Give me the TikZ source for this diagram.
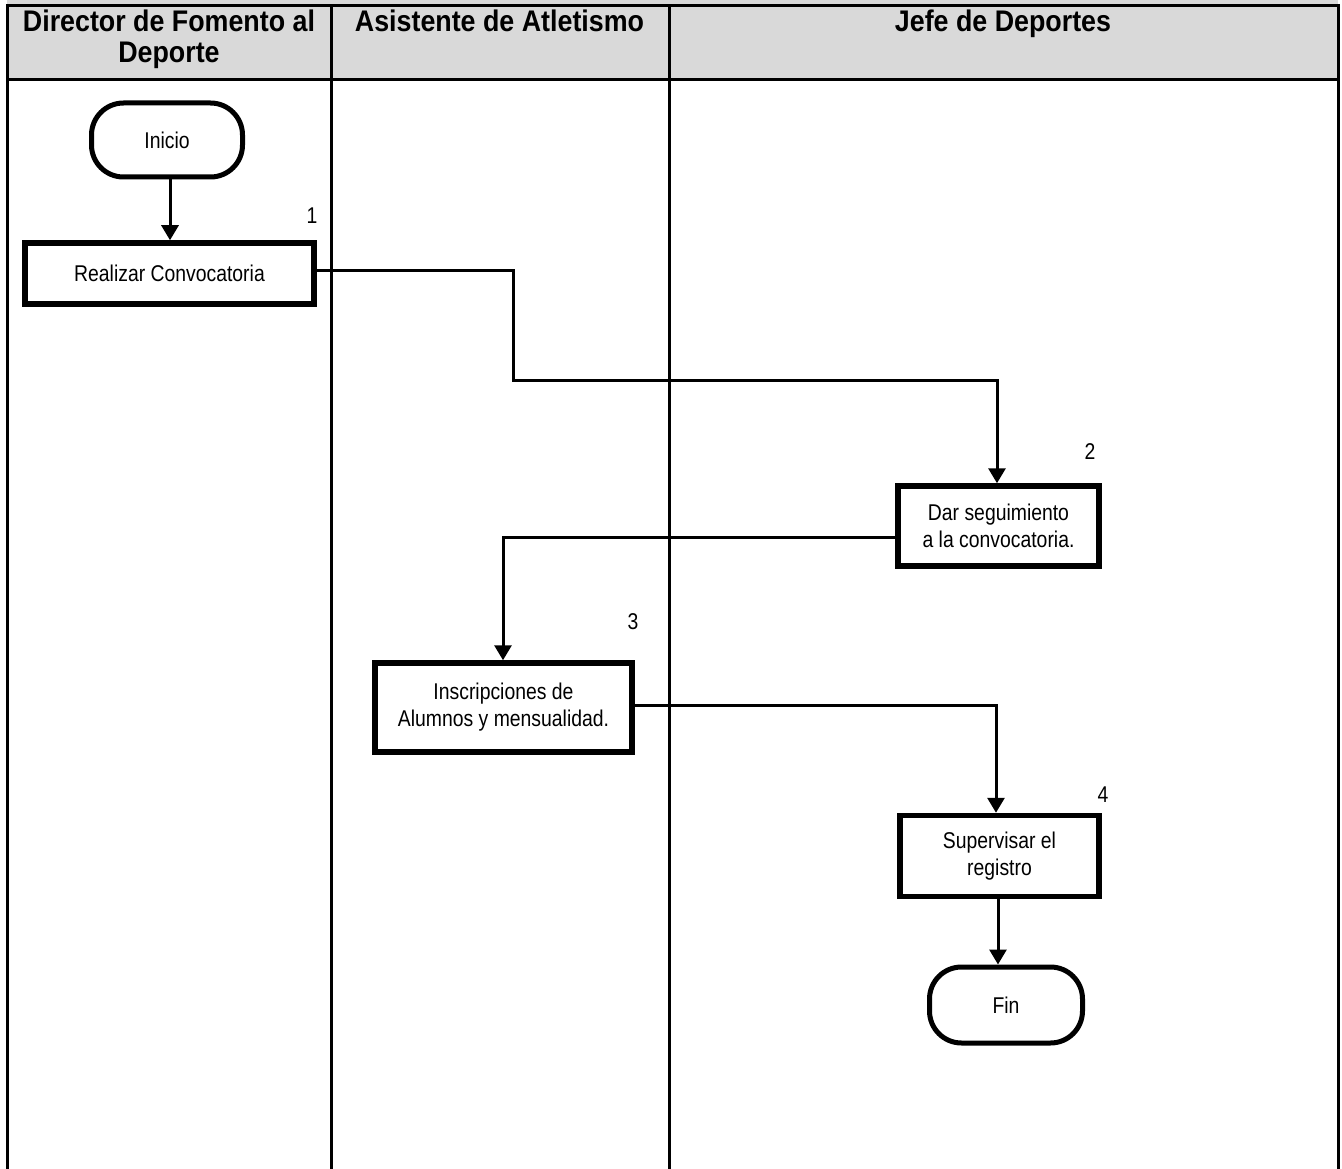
\documentclass[tikz,border=0pt]{standalone}
\usepackage{fontspec}
\setmainfont{Liberation Sans}[FakeStretch=0.9]
\newfontfamily\bodyfont{Liberation Sans}[FakeStretch=0.85]
\usetikzlibrary{arrows.meta}
\definecolor{hdrgray}{HTML}{D9D9D9}
\begin{document}
\begin{tikzpicture}[x=1pt,y=-1pt,
  lane/.style={line width=3pt, line cap=rect},
  procbox/.style={draw, line width=5.5pt, align=center, inner sep=0pt,
    font=\bodyfont\fontsize{22.8}{27}\selectfont},
  termbox/.style={draw, line width=5pt, rounded corners=32pt, align=center, inner sep=0pt,
    font=\bodyfont\fontsize{22.8}{27}\selectfont},
  flow/.style={line width=3pt, -{Triangle[width=17pt,length=15pt]}},
  hdr/.style={font=\fontsize{29.8}{31}\selectfont\bfseries, align=center, inner sep=0pt},
  num/.style={font=\bodyfont\fontsize{22.8}{24}\selectfont, inner sep=0pt}]
\useasboundingbox (0,0) rectangle (1342,1169);
% header background
\fill[hdrgray] (7,0) rectangle (1338,80);
% lanes
\draw[lane] (7,6) -- (1338,6);
\draw[lane] (7,80) -- (1338,80);
\draw[lane] (7,6) -- (7,1169);
\draw[lane] (331,6) -- (331,1169);
\draw[lane] (669,6) -- (669,1169);
\draw[lane] (1338,6) -- (1338,1169);
% header texts
\node[hdr] (h1) at (169,39) {Director de Fomento al\\Deporte};
\node[hdr, anchor=base] (h2) at (499.5,32) {Asistente de Atletismo};
\node[hdr, anchor=base] (h3) at (1003,32) {Jefe de Deportes};
% nodes
\node[termbox, minimum width=151pt, minimum height=74pt] (inicio) at (167,140) {Inicio};
\node[procbox, minimum width=289pt, minimum height=61pt] (s1) at (169.5,273.5) {Realizar Convocatoria};
\node[procbox, minimum width=201pt, minimum height=80pt] (s2) at (998.5,526) {Dar seguimiento\\a la convocatoria.};
\node[procbox, minimum width=257pt, minimum height=89pt] (s3) at (503.5,707.5) {Inscripciones de\\Alumnos y mensualidad.};
\node[procbox, minimum width=199pt, minimum height=81pt] (s4) at (999.5,856) {Supervisar el\\registro};
\node[termbox, minimum width=153pt, minimum height=76pt] (fin) at (1006,1005) {Fin};
% numbers
\node[num] (n1) at (312,216) {1};
\node[num] (n2) at (1090,452) {2};
\node[num] (n3) at (633,622) {3};
\node[num] (n4) at (1103,795) {4};
% connectors
\coordinate (c1a) at (513,271);
\coordinate (c1b) at (513,380);
\coordinate (c1c) at (997,380);
\coordinate (c2a) at (503,537);
\coordinate (c3a) at (996,705);
\draw[flow] (inicio.south -| 170,0) -- (s1.north -| 170,0);
\draw[flow] (s1.east |- c1a) -- (c1a) -- (c1b) -- (c1c) -- (s2.north -| c1c);
\draw[flow] (s2.west |- c2a) -- (c2a) -- (s3.north -| c2a);
\draw[flow] (s3.east |- c3a) -- (c3a) -- (s4.north -| c3a);
\draw[flow] (s4.south -| 998,0) -- (fin.north -| 998,0);
\end{tikzpicture}
\end{document}
